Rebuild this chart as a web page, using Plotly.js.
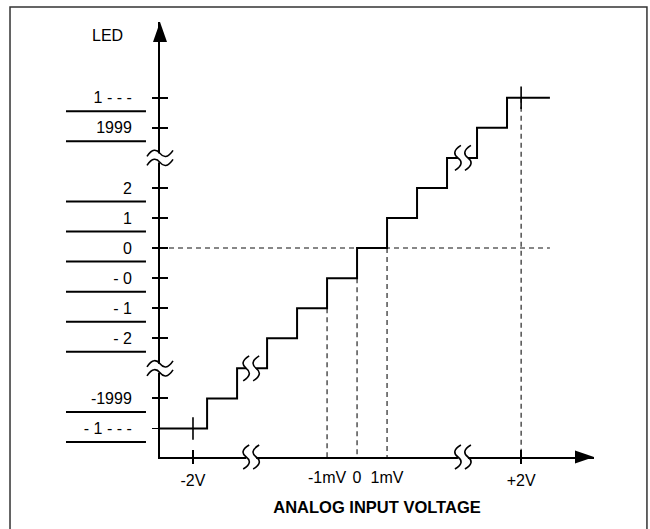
<!DOCTYPE html>
<html>
<head>
<meta charset="utf-8">
<script src="https://cdn.plot.ly/plotly-3.0.1.min.js"></script>
<style>
html,body{margin:0;padding:0;background:#fff;}
#chart{width:650px;height:529px;}
</style>
</head>
<body>
<div id="chart"></div>
<script>
// ---- data (input in LSB steps around 0, output as LED level index) ----
const stepInputs = [-6.57, -5, -4, -3, -2, -1, 0, 1, 2, 3, 4, 5, 6.43];
const stepLevels = [-6, -5, -4, -3, -2, -1, 0, 1, 2, 3, 4, 5, 5];

const ledLevels = [5, 4, 2, 1, 0, -1, -2, -3, -5, -6];
const ledLabels = ['1 - - -', '1999', '2', '1', '0', '- 0', '- 1', '- 2', '-1999', '- 1 - - -'];

const mvTicks = [-1, 0, 1];
const mvLabels = ['-1mV', '0', '1mV'];
const vTicks = [-5.47, 5.47];
const vLabels = ['-2V', '+2V'];
const vLevels = [-6, 5];

const guideInputs = [-1, 0, 1, 5.47];
const guideLevels = [-2, -1, 0, 5];
const zeroLineEnd = 6.43;

const axisBreakLevels = [3, -4];
const axisBreakInputs = [-3.53, 3.53];
const stepBreakInputs = [-3.53, 3.53];
const stepBreakLevels = [-4, 3];

const X_RANGE = [-6.57, 7.9];
const Y_RANGE = [-6.95, 7.52];

const FONT = 'Liberation Sans Narrow, Arial Narrow, Liberation Sans, Arial, sans-serif';

// ---- traces ----
const gx = [], gy = [];
guideInputs.forEach((v, i) => { gx.push(v, v, null); gy.push(guideLevels[i], Y_RANGE[0], null); });
gx.push(X_RANGE[0], zeroLineEnd); gy.push(0, 0);

const traces = [
  {x: gx, y: gy, mode: 'lines', line: {color: '#111', width: 1.1, dash: '5px,4px'}, hoverinfo: 'skip', connectgaps: false},
  {x: stepInputs, y: stepLevels, mode: 'lines', line: {color: '#000', width: 2, shape: 'hv'}, hoverinfo: 'skip'},
  {x: vTicks, y: vLevels, mode: 'markers', marker: {symbol: 'line-ns', size: 16, line: {color: '#000', width: 1.6}}, hoverinfo: 'skip', cliponaxis: false},
  {x: [X_RANGE[0]], y: [Y_RANGE[0]], xaxis: 'x2', yaxis: 'y2', mode: 'markers', marker: {opacity: 0}, hoverinfo: 'skip'},
  {x: [X_RANGE[0]], y: [Y_RANGE[0]], xaxis: 'x3', yaxis: 'y', mode: 'markers', marker: {opacity: 0}, hoverinfo: 'skip'}
];

// ---- decorative shapes ----
function curve(orient, c, h, a) {
  const P = [[-h, c - a], [-0.6*h, c + 1.7*a], [-0.25*h, c + 1.4*a], [0, c],
             [0.25*h, c - 1.4*a], [0.6*h, c - 1.7*a], [h, c + a]];
  const m = P.map(([u, v]) => orient === 'h' ? [u, v] : [v, u]);
  const s = p => p[0].toFixed(1) + ',' + p[1].toFixed(1);
  return 'M' + s(m[0]) + ' C' + s(m[1]) + ' ' + s(m[2]) + ' ' + s(m[3]) +
         ' C' + s(m[4]) + ' ' + s(m[5]) + ' ' + s(m[6]);
}
function breakShapes(orient, xref, yref, xa, ya, h, gap) {
  const cover = orient === 'h'
    ? `M-3,${gap} L3,${gap} L3,${-gap} L-3,${-gap} Z`
    : `M${-gap},-3 L${gap},-3 L${gap},3 L${-gap},3 Z`;
  const base = {type: 'path', xref: xref, yref: yref, xsizemode: 'pixel', ysizemode: 'pixel', xanchor: xa, yanchor: ya, layer: 'above'};
  return [
    Object.assign({}, base, {path: cover, fillcolor: '#fff', line: {width: 0}}),
    Object.assign({}, base, {path: curve(orient, gap, h, 3) + ' ' + curve(orient, -gap, h, 3), fillcolor: 'rgba(0,0,0,0)', line: {color: '#000', width: 1.6}})
  ];
}

const shapes = [];
// outer frame
shapes.push({type: 'rect', xref: 'paper', yref: 'paper', x0: -0.3456, x1: 1.122, y0: -0.25, y1: 1.0345, line: {color: '#333', width: 1.5}, fillcolor: 'rgba(0,0,0,0)'});
// separator lines under the LED readouts
ledLevels.forEach(l => shapes.push({type: 'line', xref: 'paper', yref: 'y', x0: -0.2166, x1: -0.0323, y0: l - 0.45, y1: l - 0.45, line: {color: '#000', width: 2}}));
// arrows
shapes.push({type: 'path', xref: 'paper', yref: 'paper', xsizemode: 'pixel', ysizemode: 'pixel', xanchor: 0, yanchor: 1, path: 'M0,0 L-7,-20 L7,-20 Z', fillcolor: '#000', line: {width: 0}});
shapes.push({type: 'path', xref: 'paper', yref: 'paper', xsizemode: 'pixel', ysizemode: 'pixel', xanchor: 1, yanchor: 0, path: 'M0,0 L-19,6.5 L-19,-6.5 Z', fillcolor: '#000', line: {width: 0}});
// breaks
axisBreakLevels.forEach(l => shapes.push(...breakShapes('h', 'paper', 'y', 0, l, 13, 4.5)));
axisBreakInputs.forEach(v => shapes.push(...breakShapes('v', 'x', 'paper', v, 0, 12, 5)));
stepBreakInputs.forEach((v, i) => shapes.push(...breakShapes('v', 'x', 'y', v, stepBreakLevels[i], 12.5, 5)));

const tickFont = {family: FONT, size: 16, color: '#000'};

const layout = {
  width: 650, height: 529,
  margin: {l: 160, r: 56, t: 22, b: 72, pad: 0},
  paper_bgcolor: '#fff', plot_bgcolor: '#fff',
  showlegend: false,
  font: {family: FONT, color: '#000'},
  xaxis: {
    range: X_RANGE, showline: true, linewidth: 2, linecolor: '#000', showgrid: false, zeroline: false,
    tickmode: 'array', tickvals: mvTicks, ticktext: mvLabels, ticks: '', tickfont: tickFont,
    ticklabelstandoff: 5, fixedrange: true,
    title: {text: 'ANALOG INPUT VOLTAGE', font: {family: FONT, size: 16.5, weight: 700, color: '#000'}, standoff: 16}
  },
  xaxis2: {
    overlaying: 'x', matches: 'x', anchor: 'y', side: 'bottom', showline: false, showgrid: false, zeroline: false,
    tickmode: 'array', tickvals: vTicks, ticktext: vLabels, ticks: 'outside', ticklen: 6, tickwidth: 1.8, tickcolor: '#000',
    tickfont: tickFont, ticklabelstandoff: 3, fixedrange: true
  },
  xaxis3: {
    overlaying: 'x', matches: 'x', anchor: 'y', side: 'bottom', showline: false, showgrid: false, zeroline: false,
    tickmode: 'array', tickvals: vTicks, ticks: 'inside', ticklen: 7, tickwidth: 1.8, tickcolor: '#000',
    showticklabels: false, fixedrange: true
  },
  yaxis: {
    range: Y_RANGE, showline: true, linewidth: 2, linecolor: '#000', showgrid: false, zeroline: false,
    tickmode: 'array', tickvals: ledLevels, ticktext: ledLabels, ticks: 'inside', ticklen: 8, tickwidth: 1.8, tickcolor: '#000',
    tickfont: tickFont, ticklabelstandoff: 23, fixedrange: true
  },
  yaxis2: {
    overlaying: 'y', matches: 'y', anchor: 'x', side: 'left', showline: false, showgrid: false, zeroline: false,
    tickmode: 'array', tickvals: ledLevels, ticks: 'outside', ticklen: 7, tickwidth: 1.8, tickcolor: '#000',
    showticklabels: false, fixedrange: true
  },
  annotations: [
    {text: 'LED', xref: 'paper', yref: 'paper', x: -0.121, y: 0.968, xanchor: 'center', yanchor: 'middle', showarrow: false, font: {family: FONT, size: 16, color: '#000'}}
  ],
  shapes: shapes
};

Plotly.newPlot('chart', traces, layout, {displayModeBar: false, staticPlot: true});
</script>
</body>
</html>
